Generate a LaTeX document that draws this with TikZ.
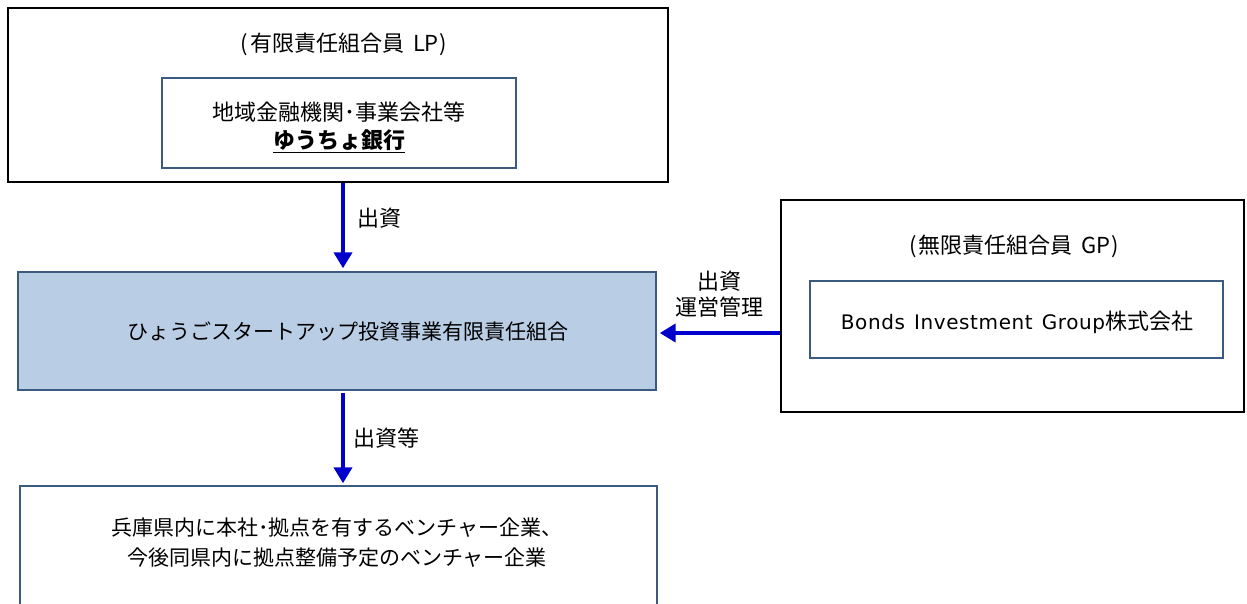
\documentclass[tikz,border=0pt]{standalone}
\usepackage{fontspec}
\setmainfont{Noto Sans CJK JP}
\newfontfamily\latinfont[LetterSpace=3,WordSpace=1.3]{DejaVu Sans}
\usetikzlibrary{arrows.meta,calc}
\definecolor{arrblue}{HTML}{0000CC}
\definecolor{inborder}{HTML}{3B5A80}
\definecolor{fundfill}{HTML}{B9CDE5}
\tikzset{
  outerbox/.style={draw=black,line width=1.6pt,fill=white,inner sep=0pt},
  innerbox/.style={draw=inborder,line width=1.4pt,fill=white,inner sep=0pt},
  lbl/.style={font=\fontsize{22}{28}\selectfont,inner sep=0pt,align=center},
  lbls/.style={font=\fontsize{21}{30}\selectfont,inner sep=0pt,align=center},
  arr/.style={draw=arrblue,line width=4.2pt,-{Triangle[width=18pt,length=16pt]}}
}
\begin{document}
\begin{tikzpicture}[x=1pt,y=-1pt]
\useasboundingbox[fill=white] (0,0) rectangle (1247,603);
\clip (0,0) rectangle (1247,603);
% LP box
\node[outerbox,minimum width=660pt,minimum height=174pt] (lp) at (338,95) {};
\node[lbl] (lpt) at (344,44) {(\hspace{2pt}有限責任組合員\hspace{4pt} LP\hspace{1pt})};
\node[innerbox,minimum width=354pt,minimum height=90pt] (lpin) at (339,123) {};
\node[lbl] (lpint) at (339,127) {地域金融機関･事業会社等\\\textbf{\underline{ゆうちょ銀行}}};
% fund box
\node[draw=inborder,line width=1.4pt,fill=fundfill,inner sep=0pt,minimum width=638pt,minimum height=118pt] (fund) at (337,331) {};
\node[lbls] (fundt) at (348,332) {ひょうごスタートアップ投資事業有限責任組合};
% bottom box
\node[innerbox,minimum width=637pt,minimum height=160pt] (vc) at (338.5,566) {};
\node[lbls] (vct) at (337,543) {兵庫県内に本社･拠点を有するベンチャー企業、\\今後同県内に拠点整備予定のベンチャー企業};
% GP box
\node[outerbox,minimum width=463pt,minimum height=212pt] (gp) at (1012.5,306) {};
\node[lbl] (gpt) at (1014,246) {(\hspace{2pt}無限責任組合員\hspace{4pt} GP\hspace{1pt})};
\node[innerbox,minimum width=413pt,minimum height=77pt] (gpin) at (1016.5,319.5) {};
\node[lbl] (gpint) at (1017,322) {{\latinfont\fontsize{20}{25}\selectfont Bonds Investment Group}株式会社};
% arrows
\coordinate (ax) at (343,0);
\coordinate (ay) at (0,333);
\draw[arr,shorten >=3pt] (lp.south -| ax) -- (fund.north -| ax);
\draw[arr,shorten >=2pt] (fund.south -| ax) ++(0,2) -- (vc.north -| ax);
\draw[arr,shorten >=3pt] (gp.west |- ay) -- (fund.east |- ay);
% labels
\node[lbl,anchor=west] (l1) at (357,218) {出資};
\node[lbl,anchor=west] (l2) at (353,438) {出資等};
\node[lbl] (l3) at (719,294) {出資\\[-2pt]運営管理};
\end{tikzpicture}
\end{document}
